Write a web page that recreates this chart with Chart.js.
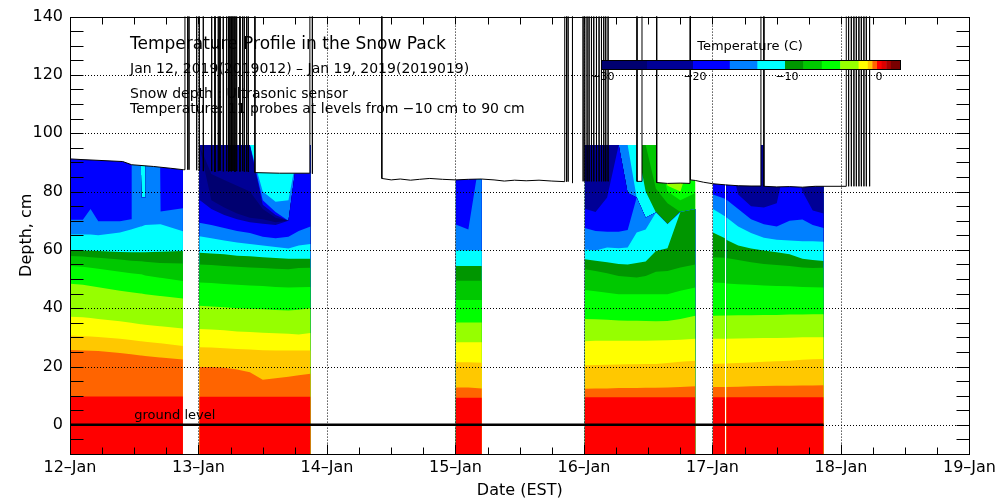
<!DOCTYPE html>
<html><head><meta charset="utf-8">
<script src="https://cdn.jsdelivr.net/npm/chart.js@4.4.1/dist/chart.umd.min.js"></script>
<style>html,body{margin:0;padding:0;background:#fff}canvas{display:block}</style>
</head><body>
<canvas id="c" width="1000" height="500"></canvas>
<script>
const N = null;
// ---- axis labels ----
const dayLabels = ['12–Jan','13–Jan','14–Jan','15–Jan','16–Jan','17–Jan','18–Jan','19–Jan'];
const depthTicks = [0,20,40,60,80,100,120,140];
const gridDepths = [0,20,40,60,80,100,120];
const gridDays = [1,2,3,4,5,6];

// ---- temperature profile: time (days since 12-Jan 00:00) and top (cm) of each colour band ----
const times = [0,0.10,0.16,0.22,0.389,0.475,0.48,0.55,0.555,0.585,0.59,0.70,0.705,0.879, 0.94,
  1.006,1.10,1.20,1.30,1.40,1.50,1.60,1.70,1.78,1.872, 2.5,
  3.002,3.10,3.205, 3.6,
  4.006,4.09,4.18,4.27,4.34,4.41,4.48,4.56,4.65,4.75,4.867, 4.94,
  5.003,5.097, 5.102, 5.107,5.2,5.3,5.4,5.5,5.6,5.7,5.78,5.865];

const bandRed = [9.7,9.7,9.7,9.7,9.7,9.7,9.7,9.7,9.7,9.7,9.7,9.7,9.7,9.7, N, 9.6,9.6,9.6,9.6,9.6,9.6,9.6,9.6,9.6,9.6, N, 9.3,9.3,9.3, N, 9.5,9.5,9.5,9.5,9.5,9.5,9.5,9.5,9.5,9.5,9.5, N, 9.5,9.5, N, 9.5,9.5,9.5,9.5,9.5,9.5,9.5,9.5,9.5];
const bandOrange = [25.7,25.5,25.4,25.3,24.6,24.2,24.2,23.8,23.8,23.6,23.6,23.1,23.1,22.4, N, 19.8,19.8,19.6,19.0,18.0,15.5,16.0,16.5,17.0,17.5, N, 12.8,12.8,12.5, N, 12.4,12.5,12.5,12.6,12.6,12.6,12.7,12.7,12.8,13.0,13.2, N, 13.0,13.0, N, 13.0,13.1,13.2,13.3,13.4,13.4,13.5,13.5,13.6];
const bandGold = [30.6,30.4,30.3,30.1,29.5,29.1,29.1,28.7,28.7,28.5,28.5,28.0,28.0,27.0, N, 26.6,26.5,26.3,26.0,25.8,25.6,25.5,25.5,25.5,25.5, N, 21.5,21.5,21.3, N, 20.4,20.5,20.6,20.7,20.8,20.8,20.9,20.9,21.2,21.6,22.0, N, 20.9,21.0, N, 21.0,21.2,21.4,21.6,21.8,22.0,22.3,22.5,22.6];
const bandYellow = [37.1,36.9,36.6,36.3,35.5,35.0,35.0,34.5,34.5,34.3,34.3,33.8,33.8,33.0, N, 32.9,32.7,32.4,32.0,31.8,31.6,31.4,31.2,31.0,31.5, N, 28.3,28.3,28.3, N, 28.7,28.8,28.8,28.8,28.8,28.8,28.8,28.9,29.0,29.2,29.5, N, 29.5,29.5, N, 29.5,29.6,29.7,29.8,29.8,29.9,30.0,30.0,30.0];
const bandYellowGreen = [48.4,48.0,47.6,47.2,46.0,45.5,45.5,45.0,45.0,44.8,44.8,44.2,44.2,43.3, N, 40.8,40.6,40.3,40.0,39.8,39.6,39.4,39.2,39.5,40.0, N, 35.1,35.1,35.1, N, 36.3,36.2,36.0,35.8,35.7,35.7,35.6,35.5,35.6,36.3,37.4, N, 37.4,37.5, N, 37.5,37.6,37.6,37.7,37.7,37.8,37.8,37.9,37.9];
const bandBrightGreen = [54.5,54.2,53.9,53.5,52.5,52.0,52.0,51.6,51.6,51.2,51.2,50.4,50.4,49.3, N, 48.8,48.6,48.3,48.0,47.8,47.6,47.3,47.1,47.2,47.3, N, 42.8,42.8,42.8, N, 46.2,45.8,45.3,44.8,44.8,44.8,44.8,44.8,44.8,46.0,47.1, N, 48.8,48.6, N, 48.5,48.2,48.0,47.8,47.6,47.5,47.3,47.2,47.1];
const bandGreen = [57.9,57.7,57.5,57.3,56.7,56.3,56.3,56.1,56.1,55.9,55.9,55.5,55.5,55.3, N, 55.0,54.8,54.5,54.2,54.0,53.8,53.5,53.4,53.8,53.9, N, 49.4,49.4,49.4, N, 53.4,52.8,52.0,51.0,50.8,50.5,51.0,52.5,52.8,54.0,55.0, N, 57.5,57.3, N, 57.2,56.5,55.8,55.2,54.8,54.5,54.0,53.8,53.9];
const bandDarkGreen = [59.9,59.8,59.7,59.6,59.3,59.2,59.2,59.2,59.2,59.2,59.2,59.4,59.4,59.6, N, 59.0,58.8,58.5,58.0,57.8,57.5,57.2,57.0,57.0,57.0, N, 54.5,54.5,54.5, N, 56.8,56.3,55.8,55.2,55.0,55.5,56.0,59.6,60.6,73.0,74.0, N, 66.0,64.0, N, 63.5,61.5,60.5,59.8,59.2,58.5,57.0,56.5,56.2];
const bandCyan = [65.3,65.3,65.3,65.0,66.0,67.0,67.0,68.0,68.0,68.5,68.5,68.8,68.8,66.4, N, 64.7,64.0,63.2,62.5,62.0,61.5,61.0,60.5,61.5,62.0, N, 59.8,59.8,59.8, N, 60.1,59.8,60.8,60.6,60.8,66.0,67.0,72.8,68.8,0,0, N, 74.0,71.5, N, 71.2,68.0,65.8,64.2,63.5,63.2,63.0,63.0,62.8];
const bandLightBlue = [70.3,70.3,74.0,69.8,69.8,70.5,96,96,78,78,96,96,73.2,74.3, N, 69.3,68.5,67.5,66.5,65.8,64.5,64.0,64.5,66.5,68.0, N, 68.7,67.0,96, N, 67.5,66.5,66.2,66.2,66.8,78.0,71.0,0,0,0,0, N, 79.0,77.5, N, 77.3,74.0,70.5,68.8,68.0,70.0,70.4,68.5,67.5];
const bandBlue = [96,96,96,96,96,96,0,0,0,0,0,0,96,96, N, 77.2,74,72,70.5,69.5,69,68.5,70,96,96, N, 96,96,0, N, 74.1,73.0,78.0,96,79.5,0,0,0,0,0,0, N, 96,96, N, 96,79,75,74.5,76,96,80,73.5,72.5];
const bandDarkBlue = [0,0,0,0,0,0,0,0,0,0,0,0,0,0, N, 96,77,74.5,72.5,71,70.5,69.5,0,0,0, N, 0,0,0, N, 96,96,96,0,0,0,0,0,0,0,0, N, 0,0, N, 0,96,96,96,96,0,96,96,96];
const bandNavy = [0,0,0,0,0,0,0,0,0,0,0,0,0,0, N, 0,86,84,82,80,74,71,0,0,0, N, 0,0,0, N, 0,0,0,0,0,0,0,0,0,0,0, N, 0,0, N, 0,0,0,0,0,0,0,0,0];
const bandDarkBlue2 = [0,0,0,0,0,0,0,0,0,0,0,0,0,0, N, 0,96,96,96,96,75.5,72,0,0,0, N, 0,0,0, N, 0,0,0,0,0,0,0,0,0,0,0, N, 0,0, N, 0,0,0,0,0,0,0,0,0];
const bandBlue2 = [0,0,0,0,0,0,0,0,0,0,0,0,0,0, N, 0,0,0,0,0,77,73,0,0,0, N, 0,0,0, N, 0,0,0,0,0,0,0,0,0,0,0, N, 0,0, N, 0,0,0,0,0,0,0,0,0];
const bandLightBlue2 = [0,0,0,0,0,0,0,0,0,0,0,0,0,0, N, 0,0,0,0,0,80,76.5,77,0,0, N, 0,0,0, N, 0,0,0,0,96,0,0,0,0,0,0, N, 0,0, N, 0,0,0,0,0,0,0,0,0];
const bandCyan2 = [0,0,0,0,0,0,0,0,96,96,0,0,0,0, N, 0,0,0,0,0,96,96,96,0,0, N, 0,0,0, N, 0,0,0,0,0,96,80,0,0,0,0, N, 0,0, N, 0,0,0,0,0,0,0,0,0];
const bandDarkGreen2 = [0,0,0,0,0,0,0,0,0,0,0,0,0,0, N, 0,0,0,0,0,0,0,0,0,0, N, 0,0,0, N, 0,0,0,0,0,0,96,81,76,0,0, N, 0,0, N, 0,0,0,0,0,0,0,0,0];
const bandGreen2 = [0,0,0,0,0,0,0,0,0,0,0,0,0,0, N, 0,0,0,0,0,0,0,0,0,0, N, 0,0,0, N, 0,0,0,0,0,0,0,96,80,77,79.5, N, 0,0, N, 0,0,0,0,0,0,0,0,0];
const bandBrightGreen2 = [0,0,0,0,0,0,0,0,0,0,0,0,0,0, N, 0,0,0,0,0,0,0,0,0,0, N, 0,0,0, N, 0,0,0,0,0,0,0,0,82,80,96, N, 0,0, N, 0,0,0,0,0,0,0,0,0];
const bandYellowGreen2 = [0,0,0,0,0,0,0,0,0,0,0,0,0,0, N, 0,0,0,0,0,0,0,0,0,0, N, 0,0,0, N, 0,0,0,0,0,0,0,0,96,96,0, N, 0,0, N, 0,0,0,0,0,0,0,0,0];

const profileTopCm = 96;   // highest level the profile is drawn to

// ---- snow depth (ultrasonic), cm; 150 = reading above the plot ----
const depthT = [0,0.078,0.41,0.48,0.65,0.78,0.8812,0.8944,0.8945,
 0.9154,0.9159,0.9164, 0.9256,0.9261,0.9266, 0.9854,0.9859,0.9864, 1.0057,1.0062,1.0067,
 1.0368,1.0373,1.0378, 1.1021,1.1026,1.1031, 1.1278,1.1283,1.1288, 1.1534,1.1539,1.1544,
 1.1667,1.1672,1.1677, 1.1923,1.1928,1.1933, 1.2188,1.2193,1.2198, 1.2328,1.2333,1.2338,
 1.2444,1.2449,1.2454, 1.2561,1.2566,1.2571, 1.2678,1.2683,1.2688, 1.2833,1.2838,1.2843,
 1.2966,1.2971,1.2976, 1.3222,1.3227,1.3232, 1.3432,1.3437,1.3442, 1.3557,1.3562,1.3567,
 1.3743,1.3748,1.3753, 1.3868,1.3873,1.3878,
 1.4389,1.4390,1.63,1.8667,1.8668, 1.8855,1.8860,1.8865, 2.4266,2.4267,
 2.50,2.57,2.65,2.72,2.80,2.90,3.00,3.10,3.20,3.30,3.38,3.46,3.55,3.65,3.75,3.85,3.8501,
 3.8632,3.8637,3.8642, 3.8757,3.8762,3.8767, 3.9099,3.9104,3.9109, 3.9924,3.9929,3.9934,
 4.0056,4.0061,4.0066, 4.0234,4.0239,4.0244, 4.0390,4.0395,4.0400, 4.0576,4.0581,4.0586,
 4.0756,4.0761,4.0766, 4.0966,4.0971,4.0976, 4.1168,4.1173,4.1178, 4.1355,4.1360,4.1365,
 4.1534,4.1539,4.1544, 4.1689,4.1694,4.1699, 4.1868,4.1873,4.1878,
 4.4124,4.4125,4.4513,4.4514, 4.5655,4.5656,4.65,4.75,4.8246,4.8247,
 4.8285,4.8286,4.8666,4.93,5.00,5.10,5.20,5.30,5.3768,5.3769,5.3999,5.4000,5.50,5.60,5.70,5.80,6.0410,6.0411,
 6.0589,6.0594,6.0599, 6.0799,6.0804,6.0809, 6.1001,6.1006,6.1011, 6.1188,6.1193,6.1198,
 6.1390,6.1395,6.1400, 6.1577,6.1582,6.1587, 6.1779,6.1784,6.1789, 6.1966,6.1971,6.1976,
 6.2222,6.2227,6.2232, 6.5];
const depthV = [91.2,91.0,90.3,89.2,88.6,88.0,87.5,87.5,150,
 150,87.5,150, 150,87.5,150, 150,87.3,150, 150,87.2,150,
 150,87.0,150, 150,87.0,150, 150,86.8,150, 150,87.0,150,
 150,87.2,150, 150,86.9,150, 150,87.0,150, 150,86.8,150,
 150,87.0,150, 150,86.9,150, 150,87.1,150, 150,86.8,150,
 150,87.0,150, 150,86.9,150, 150,87.0,150, 150,86.8,150,
 150,86.9,150, 150,86.7,150,
 150,86.5,86.3,86.3,150, 150,86.1,150, 150,84.5,
 84.0,84.3,83.9,84.2,84.5,84.2,84.0,84.2,84.3,84.0,83.6,83.9,83.7,83.9,83.6,83.4,150,
 150,83.4,150, 150,83.4,150, 150,82.9,150, 150,83.5,150,
 150,83.5,150, 150,83.5,150, 150,83.5,150, 150,83.5,150,
 150,83.5,150, 150,83.5,150, 150,83.5,150, 150,83.5,150,
 150,83.5,150, 150,83.5,150, 150,83.5,150,
 150,83.5,83.5,150, 150,83.1,82.8,82.9,82.8,150,
 150,84.0,83.8,83.2,82.7,82.3,82.0,81.9,81.9,150,150,81.8,81.6,81.7,81.5,81.8,81.8,150,
 150,81.8,150, 150,81.8,150, 150,81.8,150, 150,81.8,150,
 150,81.8,150, 150,81.8,150, 150,81.8,150, 150,81.8,150,
 150,81.8,150, 150];

const groundT = [0, 5.8645];
const groundV = [0, 0];

// ---- colour scale ----
const cbLevels = [-30,-25,-20,-16,-13,-10,-8,-6,-4,-2,-1,-0.5,0,0.5,1,1.5,2.5];
const cbColors = ['#000070','#000096','#0000ff','#0080ff','#00ffff','#009600','#00c800','#00ff00','#96ff00','#ffff00','#ffc800','#ff6400','#ff0000','#dc0000','#aa0000','#780000'];
const cbLabelValues = [-30,-20,-10,0];
const cbLabelText = ['−30','−20','−10','0'];

const bandColors = ['#ff0000','#ff6400','#ffc800','#ffff00','#96ff00','#00ff00','#00c800','#009600','#00ffff','#0080ff','#0000ff','#000096','#000070','#000096','#0000ff','#0080ff','#00ffff','#009600','#00c800','#00ff00','#96ff00'];
const bandTops = [bandRed,bandOrange,bandGold,bandYellow,bandYellowGreen,bandBrightGreen,bandGreen,bandDarkGreen,bandCyan,bandLightBlue,bandBlue,bandDarkBlue,bandNavy,bandDarkBlue2,bandBlue2,bandLightBlue2,bandCyan2,bandDarkGreen2,bandGreen2,bandBrightGreen2,bandYellowGreen2];

const titleLines = ['Temperature Profile in the Snow Pack',
  'Jan 12, 2019(2019012) – Jan 19, 2019(2019019)',
  'Snow depth : Ultrasonic sensor',
  'Temperature: 11 probes at levels from −10 cm to 90 cm'];

if (depthT.length !== depthV.length) throw new Error('depth arrays ' + depthT.length + ' vs ' + depthV.length);

const datasets = [];
let below = null;
bandTops.forEach((tops, k) => {
  if (tops.length !== times.length) throw new Error('band ' + k + ' has ' + tops.length + ' values, expected ' + times.length);
  const ys = tops.map((v, i) => v === null ? null : (below && below[i] !== null ? Math.max(v, below[i]) : v));
  below = ys;
  datasets.push({
    data: times.map((t, i) => ({x: t, y: ys[i]})),
    backgroundColor: bandColors[k], borderColor: 'transparent', borderWidth: 0,
    pointRadius: 0, fill: 'start', order: 3, spanGaps: false
  });
});
datasets.push({ // area above the snow surface / highest probe
  data: depthT.map((t, i) => ({x: t, y: Math.min(depthV[i], profileTopCm)})),
  backgroundColor: '#ffffff', borderColor: 'transparent', borderWidth: 0, pointRadius: 0, fill: 'end', order: 2
});
datasets.push({
  data: groundT.map((t, i) => ({x: t, y: groundV[i]})),
  borderColor: '#000', borderWidth: 2.5, pointRadius: 0, fill: false, order: 1
});
datasets.push({
  data: depthT.map((t, i) => ({x: t, y: depthV[i]})),
  borderColor: '#000', borderWidth: 1, pointRadius: 0, fill: false, order: 0
});

const FONT = '"DejaVu Sans", sans-serif';

const decor = {
  id: 'decor',
  afterDatasetsDraw(chart) {
    const {ctx, chartArea: a, scales: {x, y}} = chart;
    ctx.save();
    ctx.strokeStyle = '#000';
    ctx.lineWidth = 1;
    ctx.setLineDash([1, 2]);
    gridDepths.forEach(v => {
      const py = Math.round(y.getPixelForValue(v)) + 0.5;
      ctx.beginPath(); ctx.moveTo(a.left, py); ctx.lineTo(a.right, py); ctx.stroke();
    });
    gridDays.forEach(d => {
      const px = Math.round(x.getPixelForValue(d)) + 0.5;
      ctx.beginPath(); ctx.moveTo(px, a.top); ctx.lineTo(px, a.bottom); ctx.stroke();
    });
    ctx.setLineDash([]);
    const L = Math.round(a.left) + 0.5, R = Math.round(a.right) + 0.5;
    const T = Math.round(a.top) + 0.5, B = Math.round(a.bottom) + 0.5;
    ctx.beginPath();
    for (let v = -5; v < 140; v += 5) {
      const py = Math.round(y.getPixelForValue(v)) + 0.5;
      ctx.moveTo(L, py); ctx.lineTo(L + 13, py);
      ctx.moveTo(R, py); ctx.lineTo(R - 13, py);
    }
    for (let d = 0.25; d < 7; d += 0.25) {
      const px = Math.round(x.getPixelForValue(d)) + 0.5;
      const len = Math.abs(d - Math.round(d)) < 1e-6 ? 10 : 7;
      ctx.moveTo(px, B); ctx.lineTo(px, B - len);
      ctx.moveTo(px, T); ctx.lineTo(px, T + 7);
    }
    ctx.stroke();
    ctx.strokeRect(L, T, R - L, B - T);
    ctx.restore();
  },
  afterDraw(chart) {
    const {ctx, chartArea: a, scales: {x, y}} = chart;
    ctx.save();
    ctx.fillStyle = '#000';
    ctx.textAlign = 'left';
    ctx.textBaseline = 'alphabetic';
    ctx.font = '17px ' + FONT;
    ctx.fillText(titleLines[0], a.left + 60, a.top + 32);
    ctx.font = '14px ' + FONT;
    ctx.fillText(titleLines[1], a.left + 60, a.top + 56);
    ctx.fillText(titleLines[2], a.left + 60, a.top + 81);
    ctx.fillText(titleLines[3], a.left + 60, a.top + 96);
    ctx.font = '13px ' + FONT;
    ctx.fillText('ground level', x.getPixelForValue(0.5), y.getPixelForValue(2));

    // colour bar
    const cx0 = 601, cx1 = 900, cy = 60, ch = 9;
    const cbX = v => cx0 + (v - cbLevels[0]) / (cbLevels[cbLevels.length - 1] - cbLevels[0]) * (cx1 - cx0);
    for (let i = 0; i < cbColors.length; i++) {
      const xa = cbX(cbLevels[i]), xb = cbX(cbLevels[i + 1]);
      ctx.fillStyle = cbColors[i];
      ctx.fillRect(xa, cy, xb - xa + 0.5, ch);
    }
    ctx.strokeStyle = '#000'; ctx.lineWidth = 1;
    ctx.strokeRect(cx0 + 0.5, cy + 0.5, cx1 - cx0, ch);
    ctx.fillStyle = '#000';
    ctx.textAlign = 'center';
    ctx.font = '11px ' + FONT;
    cbLabelValues.forEach((v, i) => ctx.fillText(cbLabelText[i], cbX(v) + 2, 80));
    ctx.font = '13px ' + FONT;
    ctx.fillText('Temperature (C)', 750, 50);

    // axis titles
    ctx.font = '16px ' + FONT;
    ctx.fillText('Date (EST)', (a.left + a.right) / 2, 495);
    ctx.translate(27, (a.top + a.bottom) / 2);
    ctx.rotate(-Math.PI / 2);
    ctx.textBaseline = 'middle';
    ctx.fillText('Depth, cm', 0, 0);
    ctx.restore();
  }
};

new Chart(document.getElementById('c'), {
  type: 'line',
  data: { datasets },
  plugins: [decor],
  options: {
    responsive: false, animation: false, devicePixelRatio: 1, events: [],
    layout: { padding: { top: 14, right: 30, left: 0, bottom: 0 } },
    plugins: { legend: { display: false }, tooltip: { enabled: false } },
    elements: { line: { tension: 0 }, point: { radius: 0 } },
    scales: {
      x: {
        type: 'linear', min: 0, max: 7,
        grid: { display: false, drawTicks: false }, border: { display: false },
        afterBuildTicks: s => { s.ticks = dayLabels.map((l, i) => ({ value: i })); },
        afterFit: s => { s.height = 46; },
        ticks: { autoSkip: false, maxRotation: 0, padding: 4, color: '#000',
          font: { family: 'DejaVu Sans', size: 16 },
          callback: (v) => dayLabels[Math.round(v)] }
      },
      y: {
        type: 'linear', min: -10, max: 140,
        grid: { display: false, drawTicks: false }, border: { display: false },
        afterBuildTicks: s => { s.ticks = depthTicks.map(v => ({ value: v })); },
        afterFit: s => { s.width = 70; },
        ticks: { padding: 7, color: '#000', font: { family: 'DejaVu Sans', size: 16 } }
      }
    }
  }
});
</script>
</body></html>
